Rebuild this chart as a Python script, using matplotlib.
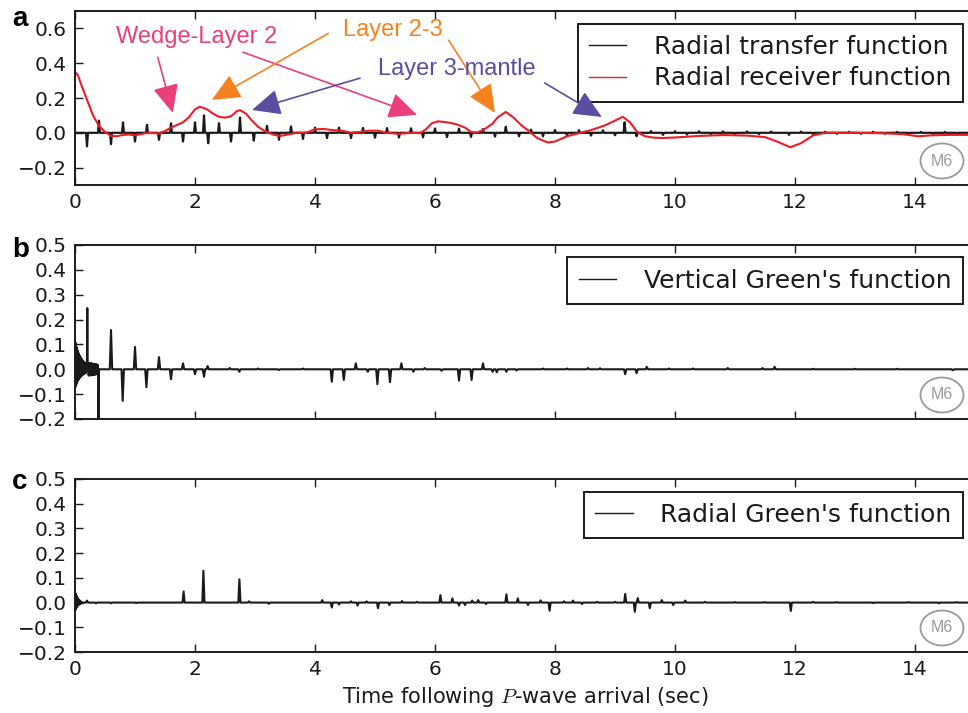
import matplotlib
matplotlib.use('Agg')
import matplotlib.pyplot as plt
from matplotlib.patches import Ellipse

# ---------------- data ----------------
# Panel a: radial receiver function (red, smooth)
rrf_t = [0.00, 0.05, 0.10, 0.20, 0.30, 0.40, 0.50, 0.60, 0.70, 0.80, 0.90, 1.00, 1.10, 1.20,
         1.30, 1.40, 1.50, 1.60, 1.70, 1.80, 1.90, 2.00, 2.08, 2.20, 2.30, 2.40, 2.50, 2.60,
         2.70, 2.75, 2.85, 2.95, 3.05, 3.15, 3.30, 3.42, 3.55, 3.70, 3.85, 4.00, 4.15, 4.30,
         4.45, 4.60, 4.75, 4.90, 5.05, 5.20, 5.40, 5.60, 5.75, 5.85, 5.95, 6.05, 6.20, 6.35,
         6.50, 6.60, 6.70, 6.80, 6.95, 7.05, 7.18, 7.30, 7.45, 7.55, 7.70, 7.88, 8.00, 8.20,
         8.42, 8.60, 8.85, 9.00, 9.13, 9.25, 9.37, 9.50, 9.65, 9.80, 10.00, 10.40, 10.80,
         11.20, 11.50, 11.70, 11.92, 12.10, 12.30, 12.50, 13.00, 13.50, 13.80, 14.05, 14.30,
         14.60, 15.00]
rrf_v = [0.350, 0.330, 0.280, 0.190, 0.100, 0.040, 0.005, -0.018, -0.020, -0.012, -0.010,
         -0.014, -0.008, 0.000, -0.002, -0.004, 0.010, 0.030, 0.045, 0.060, 0.090, 0.135,
         0.150, 0.135, 0.110, 0.092, 0.087, 0.095, 0.125, 0.130, 0.110, 0.070, 0.035, 0.012,
         -0.010, -0.018, -0.010, 0.000, 0.000, 0.020, 0.022, 0.015, 0.012, 0.000, 0.005,
         0.012, 0.012, 0.000, -0.006, 0.000, -0.002, 0.020, 0.055, 0.066, 0.060, 0.050,
         0.030, 0.005, 0.002, 0.015, 0.050, 0.090, 0.120, 0.090, 0.040, 0.015, -0.030,
         -0.056, -0.050, -0.020, 0.000, 0.015, 0.045, 0.070, 0.092, 0.060, 0.005, -0.020,
         -0.028, -0.030, -0.027, -0.018, -0.013, -0.016, -0.025, -0.050, -0.083, -0.060,
         -0.015, 0.000, 0.000, -0.003, -0.008, -0.020, -0.014, -0.012, -0.012]

# Panel a: radial transfer function spikes (black)
rtf_t = [0.20, 0.40, 0.60, 0.80, 1.00, 1.20, 1.40, 1.60, 1.80, 2.00, 2.15, 2.22, 2.40, 2.60,
         2.75, 2.98, 3.20, 3.40, 3.60, 3.80, 4.00, 4.20, 4.40, 4.60, 4.80, 5.00, 5.20, 5.40,
         5.60, 5.80, 6.00, 6.20, 6.40, 6.60, 6.80, 7.00, 7.18, 7.40, 7.60, 7.80, 8.00, 8.20,
         8.40, 8.60, 8.80, 9.00, 9.16, 9.36, 9.60, 9.80, 10.00, 10.20, 10.40, 10.60, 10.80,
         11.00, 11.20, 11.40, 11.60, 11.90, 12.10, 12.30, 12.50, 12.70, 12.90, 13.10, 13.30,
         13.50, 13.70, 13.90, 14.10, 14.30, 14.50, 14.70]
rtf_v = [-0.078, 0.070, -0.065, 0.060, -0.050, 0.046, -0.040, 0.055, -0.050, 0.060, 0.100,
         -0.060, 0.055, -0.050, 0.088, -0.045, 0.040, -0.040, 0.037, -0.035, 0.030, -0.030,
         0.030, -0.030, 0.028, -0.028, 0.027, -0.027, 0.026, -0.026, 0.025, -0.025, 0.024,
         -0.024, 0.022, -0.022, 0.035, -0.020, 0.018, -0.020, 0.016, -0.018, 0.015, -0.016,
         0.014, -0.014, 0.060, -0.020, 0.010, -0.012, 0.009, -0.010, 0.009, -0.009, 0.008,
         -0.008, 0.008, -0.008, 0.007, -0.012, 0.007, -0.007, 0.006, -0.006, 0.006, -0.006,
         0.006, -0.006, 0.005, -0.005, 0.005, -0.005, 0.005, -0.005]

# Panel b: vertical Green's function (head: ringing near t=0, then spikes)
vgf_head_t = [0.000, 0.008, 0.016, 0.024, 0.032, 0.040, 0.048, 0.056, 0.064, 0.072, 0.080,
              0.088, 0.096, 0.104, 0.112, 0.120, 0.128, 0.136, 0.144, 0.152, 0.160, 0.168,
              0.176, 0.184, 0.192, 0.198, 0.205, 0.212, 0.220, 0.228, 0.236, 0.244, 0.252,
              0.260, 0.268, 0.276, 0.284, 0.292, 0.300, 0.308, 0.316, 0.324, 0.332, 0.340,
              0.348, 0.356, 0.364, 0.372, 0.380, 0.386, 0.392, 0.400]
vgf_head_v = [0.125, -0.070, 0.105, -0.060, 0.088, -0.050, 0.075, -0.043, 0.064, -0.037,
              0.055, -0.032, 0.048, -0.028, 0.042, -0.024, 0.036, -0.021, 0.031, -0.018,
              0.027, -0.016, 0.023, -0.014, 0.020, 0.000, 0.246, 0.000, 0.025, -0.025,
              0.025, -0.025, 0.024, -0.024, 0.024, -0.024, 0.023, -0.023, 0.022, -0.022,
              0.022, -0.022, 0.021, -0.021, 0.020, -0.020, 0.019, -0.019, 0.018, 0.000,
              -0.230, 0.000]
vgf_t = [0.60, 0.795, 1.00, 1.19, 1.40, 1.60, 1.80, 2.00, 2.15, 2.21, 2.58, 2.74, 3.05, 3.40,
         3.80, 4.28, 4.48, 4.68, 4.88, 5.04, 5.25, 5.44, 5.64, 5.83, 6.11, 6.40, 6.61, 6.80,
         6.96, 7.03, 7.19, 7.36, 7.80, 8.20, 8.55, 8.75, 9.17, 9.36, 9.53, 9.90, 10.30,
         10.88, 11.46, 11.66, 12.30, 13.00, 13.70, 14.63]
vgf_v = [0.158, -0.127, 0.090, -0.072, 0.049, -0.040, 0.024, -0.020, -0.030, 0.013, 0.005,
         -0.010, 0.003, -0.003, 0.003, -0.050, -0.043, 0.024, -0.010, -0.060, -0.052, 0.024,
         -0.010, 0.005, -0.006, -0.046, -0.043, 0.024, -0.010, -0.012, -0.010, -0.005, 0.003,
         0.003, 0.005, 0.004, -0.020, -0.016, 0.010, 0.003, 0.003, 0.005, 0.005, 0.010,
         0.002, 0.002, 0.002, -0.004]

# Panel c: radial Green's function
rgf_head_t = [0.000, 0.006, 0.012, 0.018, 0.024, 0.030, 0.036, 0.042, 0.048, 0.054, 0.060,
              0.066, 0.072, 0.078, 0.084, 0.090, 0.096, 0.102, 0.110]
rgf_head_v = [0.044, -0.030, 0.036, -0.024, 0.028, -0.018, 0.022, -0.014, 0.017, -0.011,
              0.013, -0.008, 0.010, -0.006, 0.007, -0.004, 0.005, -0.003, 0.000]
rgf_t = [0.20, 0.35, 0.60, 1.02, 1.81, 2.14, 2.74, 2.90, 3.23, 4.12, 4.28, 4.40, 4.60, 4.71,
         4.86, 5.05, 5.24, 5.45, 5.70, 6.09, 6.29, 6.40, 6.50, 6.62, 6.72, 6.85, 7.19, 7.38,
         7.55, 7.76, 7.91, 8.15, 8.30, 8.45, 8.70, 9.00, 9.17, 9.33, 9.38, 9.58, 9.78, 9.97,
         10.17, 10.50, 11.00, 11.50, 11.93, 12.30, 12.70, 13.30, 13.90, 14.40, 14.70]
rgf_v = [0.008, -0.003, -0.003, -0.002, 0.045, 0.129, 0.094, 0.005, -0.005, 0.010, -0.020,
         -0.008, 0.005, -0.012, 0.005, -0.023, -0.010, 0.006, 0.003, 0.030, 0.017, -0.012,
         -0.010, 0.008, 0.010, -0.006, 0.033, 0.017, -0.010, 0.009, -0.033, 0.005, 0.008,
         -0.006, 0.003, 0.003, 0.035, -0.037, 0.018, -0.023, 0.010, -0.010, 0.008, 0.003,
         0.002, 0.002, -0.034, 0.003, 0.002, -0.002, 0.002, -0.003, 0.002]

x_ticks = [0, 2, 4, 6, 8, 10, 12, 14]
ya_ticks = [-0.2, 0.0, 0.2, 0.4, 0.6]
ybc_ticks = [-0.2, -0.1, 0.0, 0.1, 0.2, 0.3, 0.4, 0.5]


def spike_trace(head_t, head_v, times, amps, hw, t_end):
    tt = list(head_t) if head_t else [0.0]
    vv = list(head_v) if head_v else [0.0]
    for t, a in zip(times, amps):
        tt += [t - hw, t, t + hw]
        vv += [0.0, a, 0.0]
    tt.append(t_end)
    vv.append(0.0)
    return tt, vv


plt.rcParams['mathtext.fontset'] = 'cm'
plt.rcParams['font.family'] = ['DejaVu Sans']

W, H = 968, 713
fig = plt.figure(figsize=(W / 100, H / 100), dpi=100)


def px_axes(top, bottom, left=75, right=975):
    return fig.add_axes([left / W, 1 - bottom / H, (right - left) / W, (bottom - top) / H])


axa = px_axes(11, 185)
axb = px_axes(245, 419)
axc = px_axes(479, 652)

for ax in (axa, axb, axc):
    ax.set_xlim(0, 15)
    ax.set_xticks(x_ticks)
    ax.tick_params(direction='in', top=True, right=False, length=6, width=1.0,
                   labelsize=14.5, pad=6, colors='#1a1a1a')
    for s in ax.spines.values():
        s.set_linewidth(1.4)
        s.set_color('#1a1a1a')

# ---- panel a ----
ta, va = spike_trace(None, None, rtf_t, rtf_v, 0.016, 15.0)
axa.plot(ta, va, color='#1a1a1a', lw=1.6, label='Radial transfer function')
axa.plot(rrf_t, rrf_v, color='#ee1c25', lw=1.5, label='Radial receiver function')
axa.set_ylim(-0.3, 0.7)
axa.set_yticks(ya_ticks)
axa.set_yticklabels(['\u22120.2', '0.0', '0.2', '0.4', '0.6'])

pink = '#ea3f7b'
orange = '#f6821f'
purple = '#5b4ea2'
arrow_kw = dict(arrowstyle='-|>,head_length=1.1,head_width=0.5', lw=1.2, shrinkA=0, shrinkB=0,
                mutation_scale=16)
axa.text(2.02, 0.549, 'Wedge-Layer 2', color=pink, fontsize=17, family='Liberation Sans',
         ha='center', va='center')
axa.annotate('', xy=(1.63, 0.114), xytext=(1.38, 0.434),
             arrowprops=dict(color=pink, **arrow_kw))
axa.annotate('', xy=(5.70, 0.103), xytext=(2.80, 0.463),
             arrowprops=dict(color=pink, **arrow_kw))
axa.text(5.30, 0.589, 'Layer 2-3', color=orange, fontsize=17, family='Liberation Sans',
         ha='center', va='center')
axa.annotate('', xy=(2.28, 0.189), xytext=(4.22, 0.571),
             arrowprops=dict(color=orange, **arrow_kw))
axa.annotate('', xy=(7.00, 0.114), xytext=(6.23, 0.531),
             arrowprops=dict(color=orange, **arrow_kw))
axa.text(6.37, 0.366, 'Layer 3-mantle', color=purple, fontsize=17, family='Liberation Sans',
         ha='center', va='center')
axa.annotate('', xy=(2.95, 0.131), xytext=(4.75, 0.314),
             arrowprops=dict(color=purple, **arrow_kw))
axa.annotate('', xy=(8.78, 0.091), xytext=(7.83, 0.286),
             arrowprops=dict(color=purple, **arrow_kw), zorder=7)

# ---- panel b ----
tb, vb = spike_trace(vgf_head_t, vgf_head_v, vgf_t, vgf_v, 0.02, 15.0)
axb.plot(tb, vb, color='#1a1a1a', lw=1.5, label="Vertical Green's function")
axb.set_ylim(-0.2, 0.5)
axb.set_yticks(ybc_ticks)
axb.set_yticklabels(['\u22120.2', '\u22120.1', '0.0', '0.1', '0.2', '0.3', '0.4', '0.5'])
axb.set_xticklabels([])

# ---- panel c ----
tc, vc = spike_trace(rgf_head_t, rgf_head_v, rgf_t, rgf_v, 0.018, 15.0)
axc.plot(tc, vc, color='#1a1a1a', lw=1.5, label="Radial Green's function")
axc.set_ylim(-0.2, 0.5)
axc.set_yticks(ybc_ticks)
axc.set_yticklabels(['\u22120.2', '\u22120.1', '0.0', '0.1', '0.2', '0.3', '0.4', '0.5'])
axc.set_xlabel('Time following $P$-wave arrival (sec)', fontsize=15, labelpad=4,
               color='#1a1a1a')

for ax in (axa, axb, axc):
    leg = ax.legend(loc='upper right', fontsize=18, frameon=True, fancybox=False,
                    framealpha=1.0, borderaxespad=0.5, handlelength=1.5, handletextpad=1.1,
                    borderpad=0.45, labelspacing=0.3)
    leg.set_zorder(5)
    fr = leg.get_frame()
    fr.set_edgecolor('#1a1a1a')
    fr.set_linewidth(1.4)
    for line in leg.get_lines():
        line.set_linewidth(1.0)
    for txt in leg.get_texts():
        txt.set_color('#1a1a1a')
    pos = ax.get_position()
    ax_h_px = pos.height * H
    ax_w_px = pos.width * W
    cx = (942 - 75) / ax_w_px
    cy = 24 / ax_h_px
    ell = Ellipse((cx, cy), width=43 / ax_w_px, height=35 / ax_h_px,
                  transform=ax.transAxes, fill=False, edgecolor='#9a9a9a', lw=1.3)
    ax.add_patch(ell)
    ax.text(cx, cy, 'M6', transform=ax.transAxes, ha='center', va='center',
            color='#9a9a9a', fontsize=11.5, family='Liberation Sans')

for lab, ypx in (('a', 26), ('b', 257), ('c', 489)):
    fig.text(12 / W, 1 - ypx / H, lab, fontsize=20, fontweight='bold',
             family='Liberation Sans', ha='left', va='baseline')

fig.savefig('out.png', dpi=100)
